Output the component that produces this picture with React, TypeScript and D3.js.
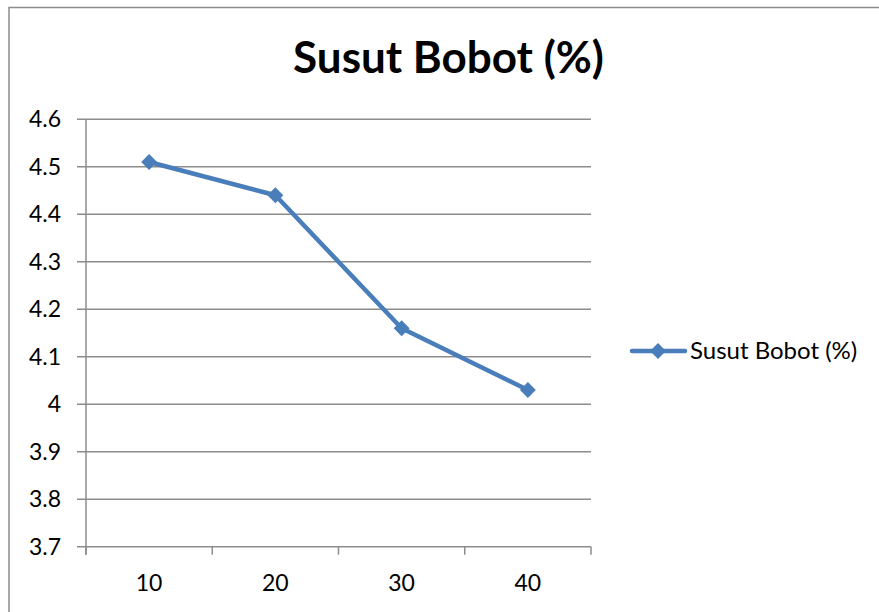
import * as d3 from 'd3'
import { useEffect, useRef } from "react";

const categories = ["10", "20", "30", "40"];
const susutBobot = [4.51, 4.44, 4.16, 4.03];
const yTicks = [3.7, 3.8, 3.9, 4.0, 4.1, 4.2, 4.3, 4.4, 4.5, 4.6];
const seriesName = "Susut Bobot (%)";

const App = () => {
    const svgRef = useRef<SVGSVGElement>(null);

    useEffect(() => {
        document.body.style.margin = "0";
        const width = 879;
        const height = 612;
        const font = "Lato, 'Open Sans', sans-serif";
        const blue = "#4a7ebb";
        const grid = "#8c8c8c";

        const svg = d3.select(svgRef.current)
            .html('')
            .attr("width", width)
            .attr("height", height);

        svg.append("rect")
            .attr("width", width).attr("height", height).attr("fill", "#fff");

        // chart frame (runs off right/bottom edge)
        svg.append("rect")
            .attr("x", 9).attr("y", 7.5)
            .attr("width", 900).attr("height", 700)
            .attr("fill", "none").attr("stroke", grid).attr("stroke-width", 1.5);

        const left = 86, right = 591, top = 119.3, bottom = 546.7;

        const x = d3.scaleBand().domain(categories).range([left, right]);
        const y = d3.scaleLinear().domain([3.7, 4.6]).range([bottom, top]);

        // gridlines + y ticks
        svg.append("g")
            .selectAll("line")
            .data(yTicks)
            .enter()
            .append("line")
            .attr("x1", left - 9).attr("x2", right)
            .attr("y1", d => y(d)).attr("y2", d => y(d))
            .attr("stroke", grid).attr("stroke-width", 1.5);

        svg.append("g")
            .selectAll("text")
            .data(yTicks)
            .enter()
            .append("text")
            .attr("x", 61)
            .attr("y", d => y(d))
            .attr("dy", "0.35em")
            .attr("text-anchor", "end")
            .style("font-family", font)
            .style("font-size", "23px")
            .text(d => d3.format("")(+d.toFixed(1)));

        // y axis line
        svg.append("line")
            .attr("x1", left).attr("x2", left)
            .attr("y1", top).attr("y2", bottom + 8)
            .attr("stroke", grid).attr("stroke-width", 1.5);

        // x tick marks at band edges
        const edges = categories.map(c => x(c) as number).concat([right]);
        svg.append("g")
            .selectAll("line")
            .data(edges)
            .enter()
            .append("line")
            .attr("x1", d => d).attr("x2", d => d)
            .attr("y1", bottom).attr("y2", bottom + 8)
            .attr("stroke", grid).attr("stroke-width", 1.5);

        svg.append("g")
            .selectAll("text")
            .data(categories)
            .enter()
            .append("text")
            .attr("x", d => (x(d) as number) + x.bandwidth() / 2)
            .attr("y", 583)
            .attr("dy", "0.35em")
            .attr("text-anchor", "middle")
            .style("font-family", font)
            .style("font-size", "23px")
            .text(d => d);

        // series line
        const pts = categories.map((c, i) => [(x(c) as number) + x.bandwidth() / 2, y(susutBobot[i])] as [number, number]);
        svg.append("path")
            .attr("d", d3.line()(pts))
            .attr("fill", "none")
            .attr("stroke", blue)
            .attr("stroke-width", 4.5)
            .attr("stroke-linejoin", "round")
            .attr("stroke-linecap", "round");

        const diamond = d3.symbol().type(d3.symbolDiamond2).size(160);
        svg.append("g")
            .selectAll("path")
            .data(pts)
            .enter()
            .append("path")
            .attr("transform", d => `translate(${d[0]},${d[1]})`)
            .attr("d", diamond)
            .attr("fill", blue);

        // title
        svg.append("text")
            .attr("x", 448.5).attr("y", 58)
            .attr("dy", "0.35em")
            .attr("text-anchor", "middle")
            .style("font-family", font)
            .style("font-weight", "bold")
            .style("font-size", "44px")
            .text(seriesName);

        // legend
        const lg = svg.append("g").attr("transform", "translate(0,351)");
        lg.append("line")
            .attr("x1", 632).attr("x2", 685)
            .attr("stroke", blue).attr("stroke-width", 4.5)
            .attr("stroke-linecap", "round");
        lg.append("path")
            .attr("transform", "translate(658,0)")
            .attr("d", diamond)
            .attr("fill", blue);
        lg.append("text")
            .attr("x", 690)
            .attr("dy", "0.35em")
            .style("font-family", font)
            .style("font-size", "24px")
            .text(seriesName);
    }, []);

    return (
        <svg ref={svgRef} style={{ display: "block" }}></svg>
    );
}

export default App;
